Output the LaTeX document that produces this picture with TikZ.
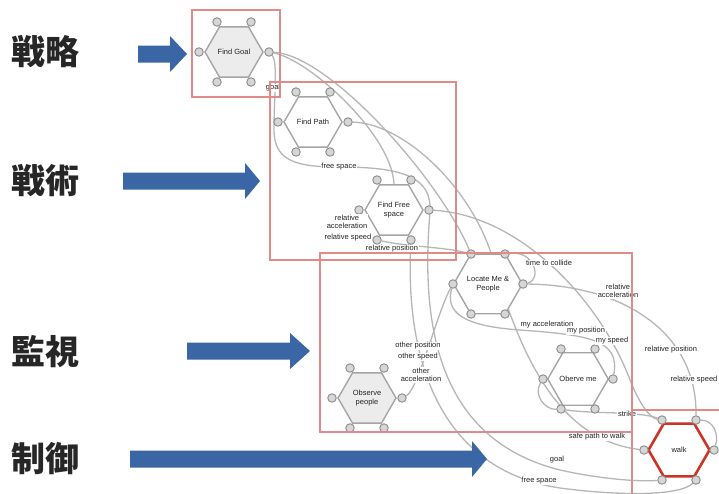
\documentclass[tikz,border=0pt]{standalone}
\usepackage{fontspec}
\setmainfont{Liberation Sans}
\newfontfamily\cjk{Noto Sans CJK JP}
\usepackage{tikz}
\usetikzlibrary{shapes.geometric}
\definecolor{levelblue}{RGB}{58,102,165}
\definecolor{zonered}{RGB}{224,138,138}
\definecolor{walkred}{RGB}{205,52,38}
\definecolor{hexgray}{RGB}{165,165,165}
\definecolor{nodefill}{RGB}{236,236,236}
\definecolor{portgray}{RGB}{140,140,140}
\definecolor{portfill}{RGB}{214,214,214}
\definecolor{linkgray}{RGB}{182,182,182}
\definecolor{textgray}{RGB}{35,35,35}
\pgfdeclarelayer{back}
\pgfdeclarelayer{links}
\pgfsetlayers{back,links,main}

% six little ports round a behaviour
\newcommand{\addports}[1]{%
  \foreach \p/\dx/\dy in {tl/-17/-30, tr/17/-30, l/-35/0, r/35/0, bl/-17/30, br/17/30}
    \node[port] (#1-\p) at ([shift={(\dx,\dy)}]#1.center) {};}

\begin{document}
\begin{tikzpicture}[x=1pt, y=-1pt,
    hexa/.style={regular polygon, regular polygon sides=6, minimum size=58pt, inner sep=0pt,
      draw=hexgray, line width=1.4pt, fill=white, align=center, text=textgray,
      font=\fontsize{7.5}{8.5}\selectfont},
    port/.style={circle, minimum size=8.5pt, inner sep=0pt, draw=portgray, fill=portfill, line width=0.9pt},
    link/.style={draw=linkgray, line width=1.3pt},
    lbl/.style={inner sep=0.6pt, fill=white, text=textgray, align=center,
      font=\fontsize{7.5}{8.5}\selectfont},
    zone/.style={draw=zonered, line width=1.8pt},
    level/.style={text=black!85, font=\cjk\bfseries\fontsize{34}{36}\selectfont}]
  \begin{pgfonlayer}{back}
    \fill[white] (0,0) rectangle (719,493);
  \end{pgfonlayer}
  \useasboundingbox (0,0) rectangle (719,493);

  % Niveles
  \node[level] (lv-strat) at (45,52) {戦略};
  \node[level] (lv-tact) at (45,181) {戦術};
  \node[level] (lv-watch) at (45,352) {監視};
  \node[level] (lv-ctrl) at (45,459) {制御};
  \foreach \xa/\xb/\xt/\yc in {138/170/187/54, 123/245/260/181, 187/290/310/351, 130/472/487/459}
    \fill[levelblue] (\xa,\yc-8.5) -- (\xb,\yc-8.5) -- (\xb,\yc-18) -- (\xt,\yc)
      -- (\xb,\yc+18) -- (\xb,\yc+8.5) -- (\xa,\yc+8.5) -- cycle;

  % Behaviours
  \node[hexa, fill=nodefill] (fg) at (234,52) {Find Goal};
  \node[hexa] (fp) at (313,122) {Find Path};
  \node[hexa] (ffs) at (394,210) {Find Free\\space};
  \node[hexa] (lmp) at (488,284) {Locate Me \&\\People};
  \node[hexa, fill=nodefill] (op) at (367,398) {Observe\\people};
  \node[hexa] (om) at (578,379) {Oberve me};
  \node[hexa, draw=walkred, line width=2.6pt, minimum size=61pt] (wk) at (679,450) {walk};
  \foreach \n in {fg,fp,ffs,lmp,op,om,wk} {\addports{\n}}

  % Wires
  \begin{pgfonlayer}{links}
    \draw[link] (fg-r) .. controls (278,62) and (274,95) .. (274,130)
      .. controls (274,162) and (298,167) .. (340,167)
      .. controls (405,167) and (432,178) .. (430,212)
      .. controls (420,330) and (440,440) .. (560,470)
      .. controls (600,479) and (640,482) .. (wk-bl);
    \draw[link] (fg-r) .. controls (310,60) and (392,135) .. (ffs.north);
    \draw[link] (fg-r) .. controls (330,55) and (440,180) .. (lmp-tl);
    \draw[link] (fp-r) .. controls (400,123) and (465,180) .. (490,250)
      .. controls (520,360) and (560,440) .. (wk-l);
    \draw[link] (ffs-r) .. controls (520,215) and (600,300) .. (630,380)
      .. controls (640,405) and (650,418) .. (wk-tl);
    \draw[link] (ffs-br) .. controls (405,360) and (440,470) .. (560,488)
      .. controls (620,496) and (680,496) .. (wk-br);
    \draw[link] (ffs-bl) .. controls (410,247) and (445,247) .. (lmp-tl);
    \draw[link] (op-r) .. controls (418,390) and (438,310) .. (lmp-l);
    \draw[link] (lmp-l) .. controls (445,312) and (462,326) .. (520,330)
      .. controls (590,335) and (620,340) .. (om-r);
    \draw[link] (lmp-tr) .. controls (535,250) and (542,280) .. (lmp-r);
    \draw[link] (lmp-r) .. controls (620,285) and (697,330) .. (wk-tr);
    \draw[link] (om-l) .. controls (533,395) and (545,410) .. (om-bl);
    \draw[link] (om-bl) .. controls (590,414) and (640,411) .. (wk-tl);
    \draw[link] (wk-tr) .. controls (714,420) and (719,435) .. (wk-r);
  \end{pgfonlayer}

  % Port labels
  \node[lbl] (t-goal) at (273,88) {goal};
  \node[lbl] (t-free) at (339,167) {free space};
  \node[lbl] (t-racc) at (347,222) {relative\\acceleration};
  \node[lbl] (t-rspd) at (348,238) {relative speed};
  \node[lbl] (t-rpos) at (392,249) {relative position};
  \node[lbl] (t-ttc) at (549,263) {time to collide};
  \node[lbl] (t-racc2) at (618,291) {relative\\acceleration};
  \node[lbl] (t-macc) at (547,325) {my acceleration};
  \node[lbl] (t-mpos) at (586,331) {my position};
  \node[lbl] (t-mspd) at (612,341) {my speed};
  \node[lbl] (t-opos) at (418,346) {other position};
  \node[lbl] (t-ospd) at (418,357) {other speed};
  \node[lbl] (t-oacc) at (421,375) {other\\acceleration};
  \node[lbl] (t-rpos2) at (671,350) {relative position};
  \node[lbl] (t-rspd2) at (694,380) {relative speed};
  \node[lbl] (t-strike) at (627,414) {strike};
  \node[lbl] (t-safe) at (597,437) {safe path to walk};
  \node[lbl] (t-goal2) at (557,460) {goal};
  \node[lbl] (t-free2) at (539,481) {free space};

  % Layer frames
  \draw[zone] (192,10) rectangle (280,97);
  \draw[zone] (270,82) rectangle (456,260);
  \draw[zone] (320,253) rectangle (632,432);
  \draw[zone] (632,410) rectangle (730,500);
\end{tikzpicture}
\end{document}
